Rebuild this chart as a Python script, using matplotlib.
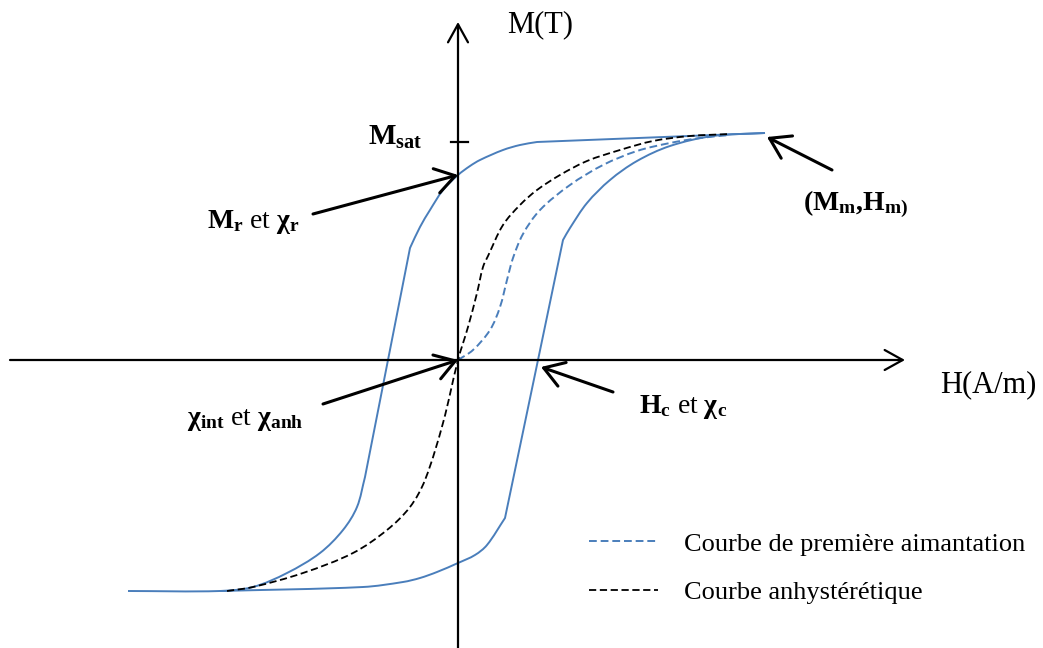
import numpy as np
import matplotlib
matplotlib.use("Agg")
import matplotlib.pyplot as plt
from matplotlib.path import Path
from matplotlib.patches import PathPatch
from matplotlib.lines import Line2D

plt.rcParams["font.family"] = ["Liberation Serif", "DejaVu Serif"]
plt.rcParams["mathtext.fontset"] = "custom"
plt.rcParams["mathtext.rm"] = "Liberation Serif"
plt.rcParams["mathtext.bf"] = "Liberation Serif:bold"
plt.rcParams["mathtext.it"] = "Liberation Serif:italic"

# branche descendante du cycle (de Hm vers -Hm)
H_desc = [3.07, 0.79, 0.62, 0.45, 0.22, 0.12, 0.00, -0.15, -0.28, -0.38, -0.48,
          -0.70, -0.93, -1.01, -1.15, -1.38, -1.71, -2.05, -2.38, -3.30]
M_desc = [2.27, 2.18, 2.15, 2.10, 2.00, 1.94, 1.85, 1.70, 1.50, 1.33, 1.12,
          0.00, -1.17, -1.47, -1.70, -1.93, -2.13, -2.27, -2.31, -2.31]
desc_corners = [1, 10, 12]

# branche ascendante
H_asc = [-2.38, -0.95, -0.55, -0.38, -0.21, 0.00, 0.17, 0.29, 0.47, 0.80, 1.05, 1.12,
         1.29, 1.52, 1.79, 2.12, 2.55, 3.07]
M_asc = [-2.31, -2.27, -2.22, -2.18, -2.12, -2.03, -1.95, -1.85, -1.58, 0.00, 1.20, 1.32,
         1.57, 1.80, 1.99, 2.14, 2.24, 2.27]
asc_corners = [8, 10]

# courbe anhysteretique
H_anh = [-2.31, -2.05, -1.55, -1.05, -0.71, -0.48, -0.33, -0.15, 0.00, 0.10, 0.19, 0.25,
         0.30, 0.45, 0.62, 0.79, 1.02, 1.29, 1.62, 1.95, 2.32, 2.72]
M_anh = [-2.31, -2.27, -2.13, -1.93, -1.70, -1.47, -1.20, -0.63, 0.00, 0.33, 0.67, 0.93,
         1.04, 1.35, 1.55, 1.70, 1.85, 1.99, 2.10, 2.19, 2.24, 2.26]

# courbe de premiere aimantation
H_vir = [0.00, 0.15, 0.32, 0.42, 0.49, 0.55, 0.65, 0.82, 1.12, 1.45, 1.79, 2.12, 2.42, 2.72]
M_vir = [0.00, 0.10, 0.30, 0.53, 0.80, 1.02, 1.26, 1.50, 1.75, 1.95, 2.09, 2.17, 2.22, 2.25]

M_sat = 2.18
H_c = 0.80
M_r = 1.85
H_m, M_m = 3.07, 2.27

blue = "#4a7ebb"


def unit(v):
    return v / np.hypot(*v)


def smooth_path(xs, ys, corners=()):
    # courbe de Bezier passant par les points ; aux coins, tangentes prises
    # sur chaque segment pour garder les parties droites bien droites
    p = np.column_stack([xs, ys])
    n = len(p)
    t_in = np.zeros_like(p)
    t_out = np.zeros_like(p)
    for i in range(n):
        if i in corners:
            t_in[i] = unit(p[i] - p[i - 1])
            t_out[i] = unit(p[i + 1] - p[i])
        else:
            t_in[i] = t_out[i] = unit(p[min(i + 1, n - 1)] - p[max(i - 1, 0)])
    verts = [p[0]]
    codes = [Path.MOVETO]
    for i in range(n - 1):
        seg = np.hypot(*(p[i + 1] - p[i])) / 3
        verts += [p[i] + t_out[i] * seg, p[i + 1] - t_in[i + 1] * seg, p[i + 1]]
        codes += [Path.CURVE4] * 3
    return Path(verts, codes)


fig = plt.figure(figsize=(10.43, 6.48), dpi=100)
ax = fig.add_axes([0, 0, 1, 1])
ax.set_xlim(-4.58, 5.85)
ax.set_ylim(-2.88, 3.60)
ax.axis("off")

# axes H et M avec fleches
axis_arrow = dict(arrowstyle="->,head_length=0.65,head_width=0.36", lw=1.6,
                  color="black", mutation_scale=20, shrinkA=0, shrinkB=0)
ax.annotate("", xy=(4.47, 0), xytext=(-4.48, 0), arrowprops=axis_arrow)
ax.annotate("", xy=(0, 3.38), xytext=(0, -2.88), arrowprops=axis_arrow)
ax.plot([-0.07, 0.10], [M_sat, M_sat], color="black", lw=1.6)

ax.add_patch(PathPatch(smooth_path(H_desc, M_desc, desc_corners), fill=False,
                       ec=blue, lw=1.4))
ax.add_patch(PathPatch(smooth_path(H_asc, M_asc, asc_corners), fill=False,
                       ec=blue, lw=1.4))
ax.add_patch(PathPatch(smooth_path(H_vir, M_vir), fill=False, ec=blue, lw=1.4,
                       ls=(0, (4, 2))))
ax.add_patch(PathPatch(smooth_path(H_anh, M_anh), fill=False, ec="black", lw=1.3,
                       ls=(0, (4, 2))))

ax.text(0.49, 3.28, "M(T)", fontsize=22, va="baseline")
ax.text(4.82, -0.32, "H(A/m)", fontsize=22, va="baseline")
ax.text(-0.90, 2.15, r"$\mathbf{M_{sat}}$", fontsize=21, va="baseline")

# annotations
note_arrow = dict(arrowstyle="->,head_length=0.7,head_width=0.45", lw=2.2,
                  color="black", mutation_scale=20, shrinkA=0, shrinkB=0)
ax.annotate("", xy=(0.0, M_r), xytext=(-1.45, 1.46), arrowprops=note_arrow)
ax.text(-2.51, 1.32, r"$\mathbf{M_r}$ et $\mathbf{χ_r}$", fontsize=20, va="baseline")

ax.annotate("", xy=(0.0, 0.0), xytext=(-1.35, -0.44), arrowprops=note_arrow)
ax.text(-2.71, -0.65, r"$\mathbf{χ_{int}}$ et $\mathbf{χ_{anh}}$", fontsize=20, va="baseline")

ax.annotate("", xy=(H_c + 0.03, -0.07), xytext=(1.55, -0.32), arrowprops=note_arrow)
ax.text(1.81, -0.53, r"$\mathbf{H_c}$ et $\mathbf{χ_c}$", fontsize=20, va="baseline")

ax.annotate("", xy=(H_m + 0.02, M_m - 0.04), xytext=(3.74, 1.90), arrowprops=note_arrow)
ax.text(3.45, 1.50, r"$\mathbf{(M_m{,}H_{m)}}$", fontsize=20, va="baseline")

handles = [Line2D([], [], color=blue, lw=1.4, ls=(0, (4, 2))),
           Line2D([], [], color="black", lw=1.3, ls=(0, (4, 2)))]
labels = ["Courbe de première aimantation", "Courbe anhystérétique"]
ax.legend(handles, labels, loc="upper left", bbox_to_anchor=(0.555, 0.195),
          frameon=False, fontsize=19, handlelength=2.6, handletextpad=1.0,
          labelspacing=0.95, borderaxespad=0)

fig.savefig("out.png", dpi=100)
